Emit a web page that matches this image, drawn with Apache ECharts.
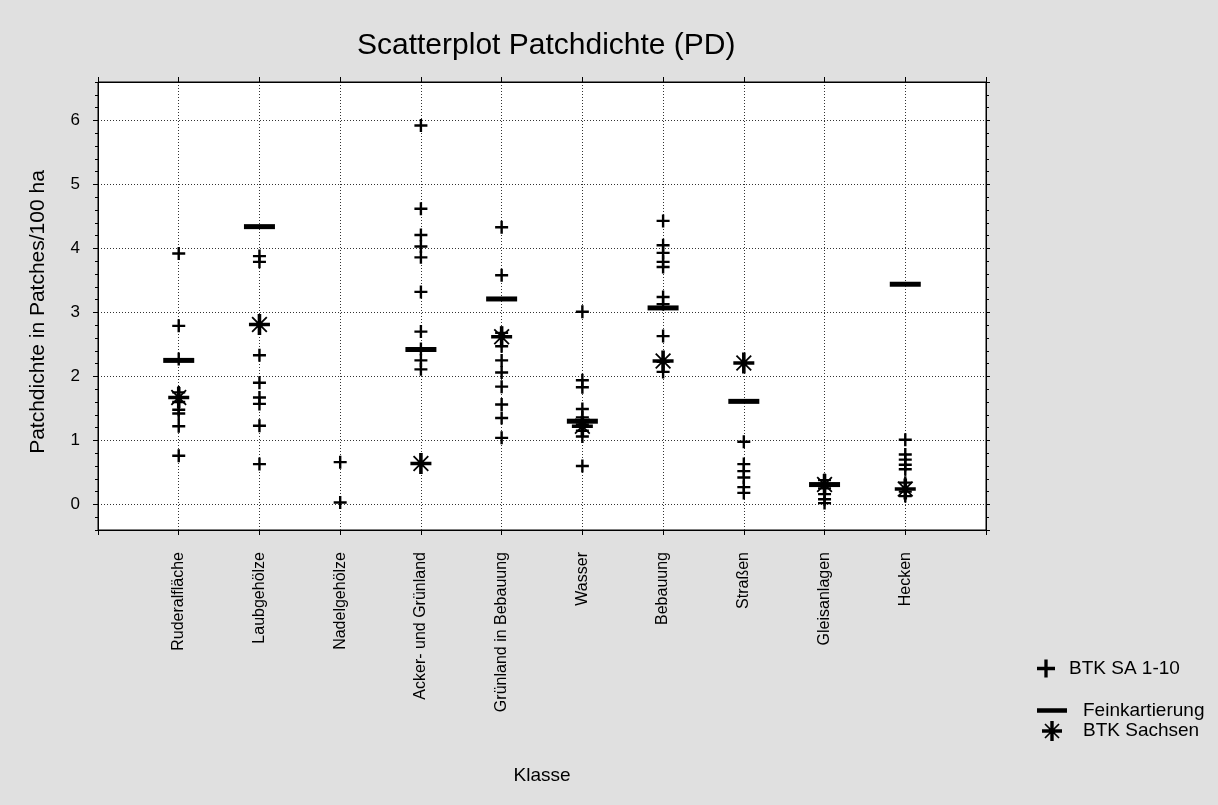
<!DOCTYPE html>
<html>
<head>
<meta charset="utf-8">
<title>Scatterplot Patchdichte (PD)</title>
<script src="https://cdn.jsdelivr.net/npm/echarts@6/dist/echarts.min.js"></script>
<style>
  html, body { margin: 0; padding: 0; background: #e0e0e0; }
  #chart { width: 1218px; height: 805px; }
</style>
</head>
<body>
<div id="chart"></div>
<script>
// Land-use classes along the x axis (placed at positions 1..10)
const categories = [
  'Ruderalfläche', 'Laubgehölze', 'Nadelgehölze', 'Acker- und Grünland',
  'Grünland in Bebauung', 'Wasser', 'Bebauung', 'Straßen', 'Gleisanlagen', 'Hecken'
];

// BTK SA 1-10: several values per class (patches per 100 ha)
const btkSA = [
  [3.92, 2.79, 2.27, 1.75, 1.60, 1.48, 1.42, 1.22, 0.76],
  [3.88, 3.79, 2.33, 1.90, 1.67, 1.57, 1.23, 0.63],
  [0.66, 0.03],
  [5.92, 4.62, 4.21, 4.03, 3.86, 3.32, 2.70, 2.43, 2.25, 2.11],
  [4.33, 3.58, 2.68, 2.47, 2.25, 2.06, 1.84, 1.56, 1.35, 1.04],
  [3.01, 1.94, 1.83, 1.49, 1.36, 1.25, 1.15, 1.06, 0.60],
  [4.43, 4.05, 3.93, 3.79, 3.71, 3.24, 3.13, 2.63, 2.23, 2.07],
  [0.98, 0.63, 0.52, 0.42, 0.27, 0.18],
  [0.38, 0.25, 0.16, 0.08, 0.02],
  [1.01, 0.78, 0.70, 0.62, 0.55, 0.34, 0.20, 0.13]
];

// Feinkartierung: one value per class (null = not mapped)
const feinkartierung = [2.25, 4.34, null, 2.42, 3.21, 1.30, 3.07, 1.61, 0.31, 3.44];

// BTK Sachsen: one value per class
const btkSachsen = [1.67, 2.81, null, 0.64, 2.62, 1.22, 2.24, 2.21, 0.31, 0.24];

// Y axis tick values
const yTicks = [0, 1, 2, 3, 4, 5, 6];

// Marker shapes
const PLUS = 'path://M5.3,0h2.4v13h-2.4zM0,5.3h13v2.4h-13z';
const DASH = 'path://M0,0h30v4.5h-30z';
const STAR = 'path://M0,8.3h20v3.4h-20zM8.3,0h3.4v20h-3.4zM2.4,3.6L3.6,2.4L17.6,16.4L16.4,17.6ZM16.4,2.4L17.6,3.6L3.6,17.6L2.4,16.4Z';

const FONT = '"Liberation Sans", Arial, sans-serif';

function toPoints(values) {
  const pts = [];
  values.forEach((v, i) => { if (v !== null) pts.push([i + 1, v]); });
  return pts;
}
function toPointsMulti(groups) {
  const pts = [];
  groups.forEach((vals, i) => vals.forEach(v => pts.push([i + 1, v])));
  return pts;
}

const Y_MIN = -0.4, Y_MAX = 6.6;
const dotted = { show: true, lineStyle: { color: '#333', width: 1, type: [1, 2] } };

const chart = echarts.init(document.getElementById('chart'), null, { renderer: 'canvas' });

chart.setOption({
  backgroundColor: '#e0e0e0',
  animation: false,
  textStyle: { fontFamily: FONT, color: '#000' },
  title: {
    text: 'Scatterplot Patchdichte (PD)',
    left: 352, top: 26,
    textStyle: { fontFamily: FONT, fontSize: 30, fontWeight: 'normal', color: '#000' }
  },
  legend: [
    {
      orient: 'vertical', left: 1032, top: 654,
      itemWidth: 30, itemHeight: 18, selectedMode: false,
      textStyle: { fontFamily: FONT, fontSize: 19, color: '#000', padding: [0, 0, 0, 3] },
      data: [{ name: 'BTK SA 1-10', icon: PLUS }]
    },
    {
      orient: 'vertical', left: 1032, top: 696, itemGap: 1,
      itemWidth: 30, itemHeight: 20, selectedMode: false,
      textStyle: { fontFamily: FONT, fontSize: 19, color: '#000', padding: [0, 0, 0, 11] },
      data: [{ name: 'Feinkartierung', icon: DASH }, { name: 'BTK Sachsen', icon: STAR }]
    }
  ],
  grid: {
    left: 98, right: 232, top: 82, bottom: 275,
    show: true, backgroundColor: '#ffffff', borderColor: '#000', borderWidth: 1
  },
  xAxis: [
    {
      type: 'value', position: 'bottom', min: 0, max: categories.length + 1, interval: 1,
      axisLine: { show: true, onZero: false, lineStyle: { color: '#000', width: 1 } },
      axisTick: { show: true, inside: false, length: 5, lineStyle: { color: '#000' } },
      splitLine: dotted,
      axisLabel: {
        rotate: 90, margin: 22, fontFamily: FONT, fontSize: 16, color: '#000',
        formatter: v => (v >= 1 && v <= categories.length) ? categories[Math.round(v) - 1] : ''
      },
      name: 'Klasse', nameLocation: 'middle', nameGap: 236,
      nameTextStyle: { fontFamily: FONT, fontSize: 19, color: '#000' }
    },
    {
      type: 'value', position: 'top', min: 0, max: categories.length + 1, interval: 1,
      axisLine: { show: true, onZero: false, lineStyle: { color: '#000' } },
      axisTick: { show: true, inside: false, length: 5, lineStyle: { color: '#000' } },
      axisLabel: { show: false }, splitLine: { show: false }
    }
  ],
  yAxis: [
    {
      type: 'value', position: 'left', min: Y_MIN, max: Y_MAX, splitNumber: 7,
      axisLine: { show: true, onZero: false, lineStyle: { color: '#000' } },
      axisTick: { show: true, inside: false, length: 5, lineStyle: { color: '#000' } },
      splitLine: dotted,
      axisLabel: {
        margin: 18, fontFamily: FONT, fontSize: 17, color: '#000',
        showMinLabel: false, showMaxLabel: false,
        formatter: v => {
          const r = Math.round(v);
          return (Math.abs(v - r) < 1e-6 && yTicks.indexOf(r) >= 0) ? String(r) : '';
        }
      },
      name: 'Patchdichte in Patches/100 ha', nameLocation: 'middle', nameGap: 49, nameRotate: 90,
      nameTextStyle: { fontFamily: FONT, fontSize: 21, color: '#000', padding: [0, 12, 0, 0] }
    },
    {
      type: 'value', position: 'left', min: Y_MIN, max: Y_MAX, interval: 0.2,
      axisLine: { show: false, onZero: false },
      axisTick: { show: true, inside: false, length: 3, lineStyle: { color: '#000' } },
      axisLabel: { show: false }, splitLine: { show: false }
    },
    {
      type: 'value', position: 'right', min: Y_MIN, max: Y_MAX, splitNumber: 7,
      axisLine: { show: true, onZero: false, lineStyle: { color: '#000' } },
      axisTick: { show: true, inside: false, length: 4, lineStyle: { color: '#000' } },
      axisLabel: { show: false }, splitLine: { show: false }
    },
    {
      type: 'value', position: 'right', min: Y_MIN, max: Y_MAX, interval: 0.2,
      axisLine: { show: false, onZero: false },
      axisTick: { show: true, inside: false, length: 3, lineStyle: { color: '#000' } },
      axisLabel: { show: false }, splitLine: { show: false }
    }
  ],
  series: [
    {
      name: 'BTK SA 1-10', type: 'scatter', xAxisIndex: 0, yAxisIndex: 0,
      symbol: PLUS, symbolSize: 13, symbolKeepAspect: true,
      itemStyle: { color: '#000', opacity: 1 },
      data: toPointsMulti(btkSA), z: 3
    },
    {
      name: 'Feinkartierung', type: 'scatter', xAxisIndex: 0, yAxisIndex: 0,
      symbol: 'rect', symbolSize: [31, 5],
      itemStyle: { color: '#000', opacity: 1 },
      data: toPoints(feinkartierung), z: 2
    },
    {
      name: 'BTK Sachsen', type: 'scatter', xAxisIndex: 0, yAxisIndex: 0,
      symbol: STAR, symbolSize: 21, symbolKeepAspect: true,
      itemStyle: { color: '#000', opacity: 1 },
      data: toPoints(btkSachsen), z: 4
    }
  ]
});
</script>
</body>
</html>
